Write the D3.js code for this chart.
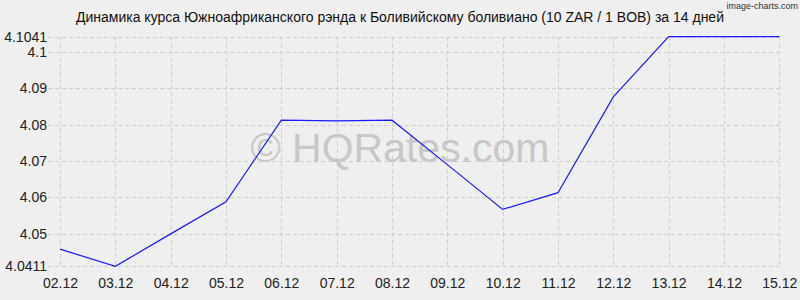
<!DOCTYPE html>
<html><head><meta charset="utf-8">
<script src="https://cdn.jsdelivr.net/npm/d3@7"></script>
<style>
html,body{margin:0;padding:0;background:#efefef;}
svg{display:block;}
text{font-family:"Liberation Sans",Arial,sans-serif;}
</style></head>
<body>
<svg id="c" width="800" height="300"></svg>
<script>
const categories = ["02.12","03.12","04.12","05.12","06.12","07.12","08.12","09.12","10.12","11.12","12.12","13.12","14.12","15.12"];
const values = [4.0458,4.0411,4.0500,4.0588,4.0812,4.0810,4.0812,4.0690,4.0567,4.0613,4.0876,4.1041,4.1041,4.1041];
const yTicks = [4.0411,4.05,4.06,4.07,4.08,4.09,4.1,4.1041];
const yTickLabels = ["4.0411","4.05","4.06","4.07","4.08","4.09","4.1","4.1041"];
const title = "Динамика курса Южноафриканского рэнда к Боливийскому боливиано (10 ZAR / 1 BOB) за 14 дней";

(function(){
const svg = d3.select("#c");
const pl = 60, pr = 779.3, pt = 36.7, pb = 266.3;
const x = d3.scalePoint().domain(categories).range([pl, pr]);
const y = d3.scaleLinear().domain([4.0411, 4.1041]).range([pb, pt]);

svg.append("rect").attr("width",800).attr("height",300).attr("fill","#efefef");

// grid
const grid = svg.append("g");
grid.selectAll("line.v").data(categories).join("line")
  .attr("x1", d=>Math.round(x(d))+0.5).attr("x2", d=>Math.round(x(d))+0.5)
  .attr("y1", pt).attr("y2", pb)
  .attr("stroke", "#cfcfcf").attr("stroke-dasharray","4,3");
grid.selectAll("line.h").data(yTicks).join("line")
  .attr("x1", 48).attr("x2", pr)
  .attr("y1", d=>Math.round(y(d))+0.5).attr("y2", d=>Math.round(y(d))+0.5)
  .attr("stroke", "#cfcfcf").attr("stroke-dasharray","4,3");

// y axis
const yAxis = d3.axisLeft(y).tickValues(yTicks).tickFormat((d,i)=>yTickLabels[i]).tickSize(0).tickPadding(13);
const yg = svg.append("g").attr("transform",`translate(${pl},0)`).call(yAxis);
yg.select(".domain").remove();
yg.selectAll("text").attr("font-size",14).attr("fill","#222").attr("font-family","Liberation Sans, Arial, sans-serif");

// x axis
const xAxis = d3.axisBottom(x).tickSize(0).tickPadding(12);
const xg = svg.append("g").attr("transform",`translate(0,${pb})`).call(xAxis);
xg.select(".domain").remove();
xg.selectAll("text").attr("font-size",14).attr("fill","#222").attr("font-family","Liberation Sans, Arial, sans-serif");

// watermark
svg.append("text").attr("x",400).attr("y",162).attr("text-anchor","middle")
  .attr("font-size",41).attr("fill","#c8c8c8").text("© HQRates.com");

// line
const line = d3.line().x((d,i)=>x(categories[i])).y(d=>y(d));
svg.append("path").datum(values).attr("d",line).attr("fill","none")
  .attr("stroke","#1a1aff").attr("stroke-width",1.2);

// title
svg.append("text").attr("x",400).attr("y",22).attr("text-anchor","middle")
  .attr("font-size",14).attr("fill","#111").text(title);

svg.append("text").attr("x",798).attr("y",9).attr("text-anchor","end")
  .attr("font-family","DejaVu Sans Mono, monospace").attr("font-size",9).attr("fill","#333").text("image-charts.com");
})();
</script>
</body></html>
